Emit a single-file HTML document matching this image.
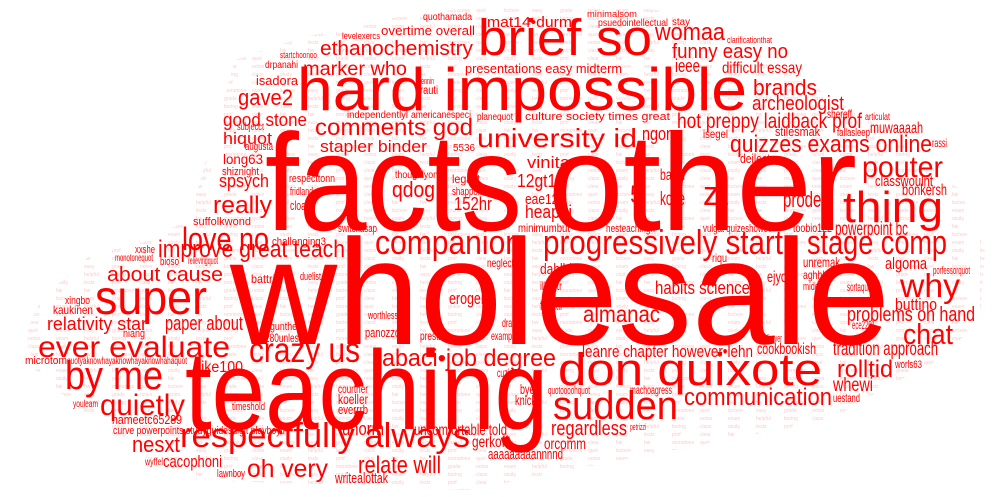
<!DOCTYPE html>
<html><head><meta charset="utf-8"><style>
html,body{margin:0;padding:0;background:#fff;}
svg{display:block;}
text{font-family:"Liberation Sans",sans-serif;fill:#ff0000;}
</style></head><body>
<svg id="cloud" width="1005" height="497" viewBox="0 0 1005 497" xmlns="http://www.w3.org/2000/svg">
<defs>
<clipPath id="cshape">
<polygon points="25,335 40,300 90,255 160,238 190,215 215,130 235,60 300,38 420,12 550,3 660,10 720,40 820,90 900,140 960,190 985,250 980,320 940,360 880,390 830,420 700,445 570,470 470,490 330,485 200,480 140,455 80,410 35,370"/>
</clipPath>
</defs>
<g id="filler" clip-path="url(#cshape)"></g>
<g id="words"></g>
</svg>
<script>
const words=["wholesale","facts","other","teaching","hard impossible","brief so","super","by me","don quixote","sudden","respectfully always","thing","companion","progressively start","stage comp","why","chat","pouter","ever evaluate","quietly","crazy us","abaci•job degree","university id","comments god","zt","5","almanac","rolltid","communication","oh very","ethanochemistry","womaa","marker who","brands","quizzes exams online","hot preppy laidback prof","love no","improve great teach","about cause","really","spsych","gave2","hiquot","good stone","stapler binder","qdog","152hr","12gt15","vinita","heaphi","mat14•durm","funny easy no","archeologist","regardless","nesxt","like100","relate will","unorm","eae126","problems on hand","leanre chapter however•lehn","whewi","relativity star","paper about","cacophoni","ngong","ieee","powerpoint bc","cookbookish","tradition approach","habits science","eroger","gerkoff","algoma","bonkersh","classwoulnt","prodegi","koze","isadora","long63","presentations easy midterm","overtime overall","difficult essay","muwaaaah","buttino","sortaquot","ejyo","aaaaaaaaannnnd","uncomfortable told","orcomm","switchasap","dahlbi","neglecty","unremak","suffolkwond","challenging3","respecttonn","nameetc65289","curve powerpoints studyguidesdigit playboyif","writealottak","minimumbut","hesteachingh","culture society times great","americanespeci","independentlyl","planequot","psuedointellectual","minimalsom","quothamada","levelexercs","lennin","rauti","5536","legalit","shappoff","thoughlyon","banki","stilesmak","fallasleep","shereff","isegel","deilect","toobio122","vulgat quizeshowev","battri","duelist","gunther","280unless","kaukinen","xingbo","niang","microtom","quotyaknowhayaknowhayaknowhahaquot","timeshold","lawnboy","courtner","koeller","everrrb","byet","knickl","panozzo","exampass","prestin","worthless","drath","cuzin","quotoooohquot","machoagress","illusitr","freckli","riqu","aghhhh","midcar","ece2201","fauver","worls63","uestand","porfessorquot","articulat","rassi","clarificationthat","stay","startchoonoo","drpanahi","subjecct","augusta","shiznight","fridland","cloa","monotonequot","bioso","relievingquot","youleam","wyffel","petrizzi","xxshe"];
const sizes=[150,138,138,112,60,51,48,40,45,40,34,44,34,34,34,33,29,30,30,30,35,24,26,23,34,25,23,24,24,25,20,24,19,22,24,21,32,24,20,24,18,22,17,18,17,22,18,18,17,18,15,20,20,20,22,16,24,18,15,20,17,19,18,20,17,18,18,19,16,19,18,17,16,17,16,15,22,19,13,14,13,13,16,16,17,12,16,15,16,16,11,15,12,14,11,11,11,13,11,15,12,11,11,10,10,10,10,9,10,9,9,12,10,12,11,10,16,13,11,12,12,13,12,11,12,11,11,12,12,11,11,11,10,11,11,12,14,13,14,14,13,12,12,11,12,12,11,12,12,13,12,12,11,12,11,11,12,11,10,12,9,10,9,10,10,11,11,11,13,10,11,10,10,10,9,11];
const xs=[230,265,548,185,297,478,95,65,558,553,180,843,375,543,807,900,903,862,38,100,249,382,477,315,703,630,583,837,684,247,320,655,303,753,730,677,182,158,107,213,219,238,223,223,320,392,454,517,527,525,487,672,752,551,132,198,358,342,525,847,582,833,47,165,163,642,675,835,757,833,655,449,472,885,902,875,783,660,256,223,465,381,722,870,895,847,767,488,414,544,338,540,487,803,193,272,289,112,113,335,518,606,525,411,347,477,598,587,423,342,420,420,453,452,452,395,660,775,837,827,703,740,793,703,251,300,270,265,53,65,123,25,67,232,217,338,338,338,520,515,365,491,420,368,502,497,548,630,540,540,712,803,803,852,767,895,833,933,865,932,727,672,280,265,237,245,222,290,290,115,160,188,73,145,630,135];
const ys=[344,230,230,429,110,55,314,389,385,419,447,222,254,254,254,297,344,177,357,415,362,366,147,135,205,203,322,377,405,477,55,40,75,95,152,128,250,257,281,213,187,105,144,126,152,197,210,187,168,218,27,58,110,435,452,372,473,435,204,321,357,391,330,330,467,140,72,235,354,355,294,304,447,269,195,186,207,205,85,164,73,35,73,133,310,291,282,459,435,449,232,274,267,267,225,245,182,424,434,483,232,232,120,118,118,120,26,17,20,39,84,94,151,183,195,178,180,136,136,118,138,163,232,232,283,280,330,342,314,304,337,364,364,410,477,393,404,414,394,405,337,340,340,319,327,377,394,394,290,310,262,279,290,329,342,368,402,274,120,147,43,25,58,68,130,150,175,195,210,261,265,264,407,465,430,253];
const widths=[660,257,309,363,450,174,112,98,264,125,290,100,147,240,140,60,50,81,192,85,111,174,160,158,25,13,77,56,148,81,153,70,104,64,202,185,87,187,116,59,50,55,49,84,107,43,38,48,43,47,85,116,92,76,48,45,83,42,40,128,171,40,100,78,59,40,25,73,59,105,95,36,36,42,45,58,50,25,42,40,157,94,80,53,42,26,20,75,93,42,39,32,31,37,58,54,46,70,172,53,52,49,145,60,61,36,70,50,49,38,14,18,22,28,30,43,25,45,33,25,25,30,39,69,24,21,30,38,40,25,22,42,120,33,28,30,30,30,17,23,35,32,25,30,16,16,42,42,22,22,15,29,22,23,15,27,27,37,25,15,45,18,37,33,27,28,37,23,16,38,19,30,25,18,16,20];
const svg=document.getElementById('words');
const NS="http://www.w3.org/2000/svg";
for(let i=0;i<words.length;i++){
  const t=document.createElementNS(NS,'text');
  
  
  t.setAttribute('x',xs[i]);t.setAttribute('y',ys[i]);
  t.setAttribute('font-size',sizes[i]);
  t.setAttribute('textLength',widths[i]);
  t.setAttribute('lengthAdjust','spacingAndGlyphs');
  t.textContent=words[i];
  svg.appendChild(t);
}
const fillerWords=["monotone","quot","lecture","easy","grade","notes","exam","helpful","boring","class","study","tests","prof","clear","fair","hw"];
const fg=document.getElementById('filler');
let k=0;
for(let y=12;y<495;y+=8){
  for(let x=(y%16?0:12);x<1005;x+=28){
    const t=document.createElementNS(NS,'text');
    
    
    t.setAttribute('x',x);t.setAttribute('y',y);
    t.setAttribute('font-size',5);
    t.setAttribute('opacity',0.22);
    t.textContent=fillerWords[k%fillerWords.length];k++;
    fg.appendChild(t);
  }
}
</script>
</body></html>
